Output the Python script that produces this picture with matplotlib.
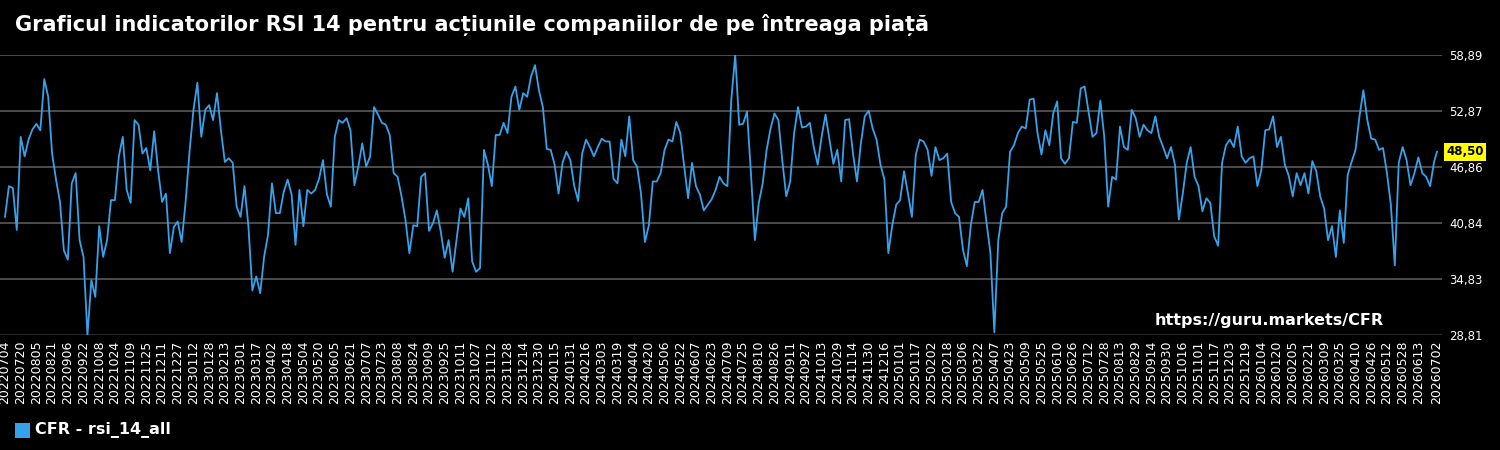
import matplotlib
matplotlib.use('Agg')
import matplotlib.pyplot as plt
import matplotlib.patches as mpatches
import numpy as np
import pandas as pd

title = 'Graficul indicatorilor RSI 14 pentru acțiunile companiilor de pe întreaga piață'
series_name = 'CFR - rsi_14_all'
watermark = 'https://guru.markets/CFR'

start_date = '2022-07-04'
last_date = '2026-07-02'
step_days = 4
tick_step_days = 16

# RSI, one value every 4 days from start_date
rsi_values = [
    41.5, 44.8, 44.6, 40.1, 50.1, 48.0, 49.8, 50.9, 51.5, 50.8,
    56.3, 54.4, 48.3, 45.5, 43.1, 37.9, 36.9, 45.1, 46.2, 39.0,
    37.2, 28.81, 34.7, 32.9, 40.5, 37.2, 39.0, 43.3, 43.3, 48.0,
    50.1, 44.4,
    43.0, 51.9, 51.4, 48.3, 48.9, 46.5, 50.7, 46.5, 43.1, 44.0,
    37.6, 40.4, 41.0, 38.8, 43.1, 48.5, 53.0, 55.9, 50.1, 53.0,
    53.5, 51.9, 54.8, 50.8, 47.4, 47.8, 47.3, 42.6, 41.5, 44.8,
    40.5, 33.6, 35.1,
    33.3, 37.2, 39.6, 45.1, 41.9, 41.9, 44.2, 45.5, 43.9, 38.5,
    44.4, 40.5, 44.4, 44.0, 44.4, 45.6, 47.6, 43.9, 42.6, 50.1,
    51.9, 51.6, 52.1, 50.8, 44.9, 46.9, 49.4, 46.9, 48.0, 53.3,
    52.5, 51.6, 51.4, 50.3,
    46.2, 45.8, 43.7, 41.2, 37.6, 40.6, 40.5, 45.8, 46.2, 40.0,
    40.8, 42.2, 39.9, 37.1, 39.0, 35.6, 39.0, 42.4, 41.5, 43.5,
    36.7, 35.6, 36.0, 48.7, 47.1, 44.8, 50.3, 50.3, 51.6, 50.5,
    54.4, 55.5, 53.0,
    54.8, 54.4, 56.6, 57.8, 55.1, 53.3, 48.8, 48.7, 47.1, 44.0,
    47.3, 48.5, 47.6, 44.8, 43.2, 48.3, 49.8, 49.0, 48.0, 49.0,
    49.9, 49.6, 49.6, 45.6, 45.1, 49.8, 48.0, 52.3, 47.6, 46.9,
    44.0, 38.8, 40.6,
    45.3, 45.3, 46.2, 48.7, 49.8, 49.6, 51.7, 50.5, 46.9, 43.5,
    47.3, 44.8, 43.9, 42.2, 42.8, 43.4, 44.4, 45.8, 45.1, 44.8,
    54.1, 58.89, 51.4, 51.5, 52.8, 46.2, 39.0, 43.0, 45.1, 48.7,
    51.0, 52.6, 51.9,
    47.5, 43.7, 45.3, 50.5, 53.3, 51.1, 51.2, 51.6, 49.0, 47.1,
    50.1, 52.5, 49.8, 47.2, 48.7, 45.3, 51.9, 52.0, 48.3, 45.3,
    49.4, 52.3, 52.9, 51.0, 49.8, 47.1, 45.5, 37.6, 40.6, 42.8,
    43.3, 46.4, 44.0,
    41.5, 48.2, 49.8, 49.6, 48.7, 45.9, 49.0, 47.6, 47.8, 48.3,
    43.1, 41.9, 41.5, 38.0, 36.2, 40.6, 43.1, 43.1, 44.4, 40.9,
    37.6, 29.1, 39.0, 41.9, 42.6, 48.5, 49.2, 50.5, 51.2, 51.0,
    54.1, 54.2, 50.5,
    48.2, 50.8, 49.2, 52.6, 53.9, 47.8, 47.2, 47.8, 51.7, 51.6,
    55.3, 55.5, 52.8, 50.1, 50.5, 54.0, 50.1, 42.6, 45.8, 45.5,
    51.2, 49.0, 48.7, 53.0, 52.1, 50.1, 51.4, 50.8, 50.5, 52.3,
    50.1, 49.0, 47.8,
    49.0, 47.1, 41.2, 44.0, 47.3, 49.0, 45.8, 44.8, 42.1, 43.5,
    43.0, 39.4, 38.4, 47.3, 49.2, 49.8, 49.0, 51.2, 48.0, 47.3,
    47.8, 48.0, 44.8, 46.5, 50.8, 50.9, 52.3, 49.0, 50.1, 47.1,
    45.9, 43.7, 46.2,
    44.9, 46.2, 44.0, 47.5, 46.4, 43.7, 42.4, 39.0, 40.5, 37.2,
    42.2, 38.7, 46.0, 47.4, 48.7, 52.3, 55.1, 51.9, 49.9, 49.8,
    48.7, 48.9, 46.2, 42.8, 36.3, 47.3, 49.0, 47.6, 44.9, 46.2,
    47.9, 46.2, 45.8, 44.8, 47.4,
]
last_value = 48.50

line_color = '#36a2eb'
grid_color = '#5a5a5a'
text_color = '#ffffff'

dates = list(pd.date_range(start_date, periods=len(rsi_values), freq=f'{step_days}D'))
dates.append(pd.Timestamp(last_date))
values = rsi_values + [last_value]
x = np.array([(d - dates[0]).days for d in dates])

ymin, ymax = min(values), max(values)
yticks = np.linspace(ymin, ymax, 6)

tick_dates = [d for d in pd.date_range(start_date, last_date, freq=f'{tick_step_days}D')
              if (pd.Timestamp(last_date) - d).days >= tick_step_days]
tick_dates.append(pd.Timestamp(last_date))
tick_x = [(d - dates[0]).days for d in tick_dates]
tick_labels = [d.strftime('%Y%m%d') for d in tick_dates]

W, H = 1500, 450
fig = plt.figure(figsize=(15, 4.5), dpi=100, facecolor='black')
ax = fig.add_axes([0, 1 - 335 / H, 1442 / W, 280 / H])
ax.set_facecolor('black')

for i, v in enumerate(yticks):
    ax.axhline(v, color='#333333' if i == 0 else grid_color, lw=1.2, zorder=1)

ax.plot(x, values, color=line_color, lw=1.3, zorder=3)

pad = 5 / (1432 / x[-1])
ax.set_xlim(-pad, x[-1] + pad)
ax.set_ylim(ymin, ymax)

ax.set_xticks(tick_x)
ax.set_xticklabels(tick_labels, rotation=90, fontsize=9, color=text_color)
ax.yaxis.tick_right()
ax.set_yticks(yticks)
ax.set_yticklabels([f'{v:.2f}'.replace('.', ',') for v in yticks], fontsize=8.5, color=text_color)
ax.tick_params(axis='both', length=0)
ax.tick_params(axis='y', pad=5)
ax.tick_params(axis='x', pad=4)
for s in ax.spines.values():
    s.set_visible(False)

ax.annotate(f'{last_value:.2f}'.replace('.', ','), xy=(1, last_value),
            xycoords=('axes fraction', 'data'), xytext=(3, 0), textcoords='offset points',
            ha='left', va='center', fontsize=8.5, fontweight='bold', color='black',
            bbox=dict(boxstyle='square,pad=0.2', fc='#ffff00', ec='none'), zorder=5)

fig.text(15 / W, 1 - 25 / H, title, color=text_color, fontsize=15, fontweight='bold', va='center', ha='left')
fig.text(1384 / W, 1 - 320 / H, watermark, color=text_color, fontsize=11.5, fontweight='bold', va='center', ha='right')

fig.add_artist(mpatches.Rectangle((15 / W, 1 - 438 / H), 15 / W, 15 / H, transform=fig.transFigure,
                                  facecolor=line_color, edgecolor='none'))
fig.text(35 / W, 1 - 430 / H, series_name, color=text_color, fontsize=11.5, fontweight='bold', va='center', ha='left')

fig.savefig('out.png', dpi=100, facecolor='black')
